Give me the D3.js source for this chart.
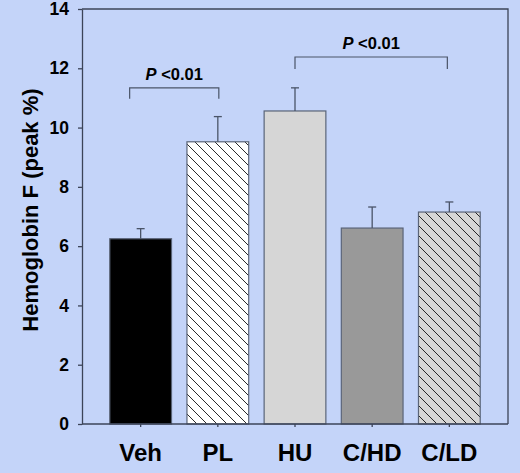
<!DOCTYPE html>
<html>
<head>
<meta charset="utf-8">
<script src="https://cdn.jsdelivr.net/npm/d3@7"></script>
<style>
  body { margin: 0; background: #c4d4f9; }
  svg { display: block; }
  text { font-family: "Liberation Sans", Arial, sans-serif; font-weight: bold; fill: #000; }
</style>
</head>
<body>
<script>
// chart values
var groups = ["Veh", "PL", "HU", "C/HD", "C/LD"];
var means = [6.25, 9.52, 10.56, 6.61, 7.15];
var errors = [0.34, 0.85, 0.78, 0.71, 0.34];
var yTicks = [0, 2, 4, 6, 8, 10, 12, 14];
var brackets = [
    {from: "Veh", to: "PL", y: 11.34, drop: 0.37, label: "<0.01"},
    {from: "HU", to: "C/LD", y: 12.38, drop: 0.40, label: "<0.01"}
];

var width = 520,
    height = 473;
var margin = {top: 9, right: 12, bottom: 49, left: 82};
var innerW = width - margin.left - margin.right,
    innerH = height - margin.top - margin.bottom;

var svg = d3.select("body")
    .append("svg")
    .attr("width", width)
    .attr("height", height);

//hatch patterns for PL and C/LD
var defs = svg.append("defs");
function hatch(id, bg){
    var p = defs.append("pattern")
        .attr("id", id)
        .attr("patternUnits", "userSpaceOnUse")
        .attr("width", 10)
        .attr("height", 10);
    p.append("rect").attr("width", 10).attr("height", 10).attr("fill", bg);
    p.append("path")
        .attr("d", "M-1,-1L11,11M-6,4L6,16M4,-6L16,6")
        .attr("stroke", "#111")
        .attr("stroke-width", 0.9);
}
hatch("hatchWhite", "#ffffff");
hatch("hatchGray", "#d6d6d6");

var fills = ["#000000", "url(#hatchWhite)", "#d6d6d6", "#999999", "url(#hatchGray)"];

var g = svg.append("g")
    .attr("transform", "translate(" + margin.left + "," + margin.top + ")");

var x = d3.scaleBand()
    .domain(groups)
    .range([0, innerW])
    .paddingInner(0.2)
    .paddingOuter(0.36);

var y = d3.scaleLinear()
    .domain([0, 14])
    .range([innerH, 0]);

//frame (top and right)
g.append("path")
    .attr("d", "M0,0H" + innerW + "V" + innerH)
    .attr("fill", "none")
    .attr("stroke", "#3c4458")
    .attr("stroke-width", 1.3);

//bars
g.selectAll(".bar")
    .data(groups)
    .enter()
    .append("rect")
    .attr("class", "bar")
    .attr("x", function(d){ return x(d); })
    .attr("width", x.bandwidth())
    .attr("y", function(d, i){ return y(means[i]); })
    .attr("height", function(d, i){ return innerH - y(means[i]); })
    .attr("fill", function(d, i){ return fills[i]; })
    .attr("stroke", "#5a6478")
    .attr("stroke-width", 1.2);

//error bars (upper only)
var eb = g.selectAll(".err")
    .data(groups)
    .enter()
    .append("g")
    .attr("class", "err")
    .attr("stroke", "#4a5468")
    .attr("stroke-width", 1.3);
eb.append("line")
    .attr("x1", function(d){ return x(d) + x.bandwidth() / 2; })
    .attr("x2", function(d){ return x(d) + x.bandwidth() / 2; })
    .attr("y1", function(d, i){ return y(means[i]); })
    .attr("y2", function(d, i){ return y(means[i] + errors[i]); });
eb.append("line")
    .attr("x1", function(d){ return x(d) + x.bandwidth() / 2 - 4; })
    .attr("x2", function(d){ return x(d) + x.bandwidth() / 2 + 4; })
    .attr("y1", function(d, i){ return y(means[i] + errors[i]); })
    .attr("y2", function(d, i){ return y(means[i] + errors[i]); });

//y axis
var yAxis = g.append("g")
    .call(d3.axisLeft(y).tickValues(yTicks).tickSize(4).tickPadding(9).tickSizeOuter(0));
yAxis.selectAll("text").style("font-size", "17.5px");

//x axis
var xAxis = g.append("g")
    .attr("transform", "translate(0," + innerH + ")")
    .call(d3.axisBottom(x).tickSize(3).tickPadding(17).tickSizeOuter(0));
xAxis.selectAll("text").style("font-size", "24px");

svg.selectAll(".domain, .tick line").attr("stroke", "#3c4458").attr("stroke-width", 1.3);
xAxis.select(".domain").attr("d", "M0,0H" + innerW);

//y label
svg.append("text")
    .attr("transform", "translate(38,210) rotate(-90)")
    .attr("text-anchor", "middle")
    .style("font-size", "22px")
    .text("Hemoglobin F (peak %)");

//significance brackets
brackets.forEach(function(b, i){
    var x0 = x(b.from) + x.bandwidth() / 2 + (i === 0 ? -11 : 0),
        x1 = x(b.to) + x.bandwidth() / 2 + (i === 0 ? 1 : -2);
    g.append("path")
        .attr("d", "M" + x0 + "," + y(b.y - b.drop) + "V" + y(b.y) + "H" + x1 + "V" + y(b.y - b.drop))
        .attr("fill", "none")
        .attr("stroke", "#4a5468")
        .attr("stroke-width", 1.2);
    var t = g.append("text")
        .attr("x", (x0 + x1) / 2)
        .attr("y", y(b.y) - 8)
        .attr("text-anchor", "middle")
        .style("font-size", "16.5px");
    t.append("tspan").style("font-style", "italic").text("P");
    t.append("tspan").text(" " + b.label);
});
</script>
</body>
</html>
